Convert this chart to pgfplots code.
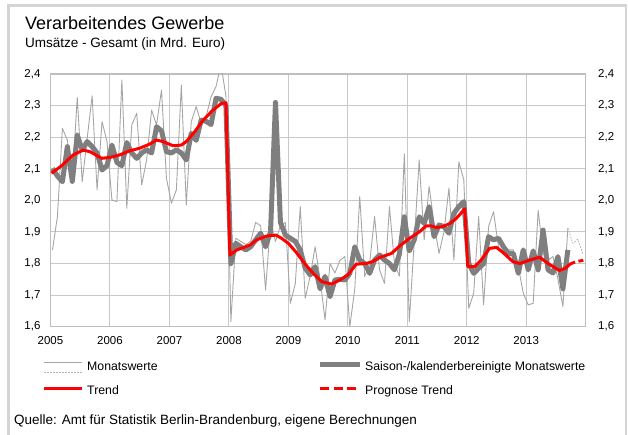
\documentclass[border=0pt]{standalone}
\usepackage{fontspec}
\setmainfont{Liberation Sans}
\usepackage{pgfplots}
\usepackage{pgfplotstable}
\pgfplotsset{compat=1.18}
\definecolor{gridgray}{HTML}{C8C8C8}
\definecolor{axgray}{HTML}{BEBEBE}
\definecolor{thingray}{HTML}{A6A6A6}
\definecolor{dotgray}{HTML}{B4B4B4}
\definecolor{thickgray}{HTML}{7F7F7F}
\definecolor{framegray}{HTML}{D4D4D4}
\definecolor{trendred}{HTML}{FF0000}

% Monatswerte (month index 0 = Jan 2005)
\pgfplotstableread{
m v
0 1.843
1 1.949
2 2.228
3 2.191
4 2.065
5 2.326
6 2.059
7 2.196
8 2.331
9 2.033
10 2.249
11 2.186
12 2.001
13 1.996
14 2.381
15 1.975
16 2.239
17 2.276
18 2.049
19 2.128
20 2.286
21 2.239
22 2.349
23 2.070
24 1.991
25 2.033
26 2.365
27 1.985
28 2.249
29 2.297
30 2.244
31 2.265
32 2.328
33 2.360
34 2.430
35 2.330
36 1.616
37 1.880
38 1.870
39 1.860
40 1.870
41 1.930
42 1.920
43 1.716
44 1.930
45 1.870
46 1.920
47 1.930
48 1.674
49 1.737
50 1.980
51 1.690
52 1.760
53 1.853
54 1.750
55 1.622
56 1.800
57 1.770
58 1.810
59 1.822
60 1.600
61 1.720
62 2.012
63 1.759
64 1.800
65 1.949
66 1.780
67 1.737
68 1.980
69 1.800
70 1.760
71 2.147
72 1.616
73 1.870
74 2.128
75 1.875
76 2.044
77 1.927
78 1.832
79 1.900
80 2.039
81 1.811
82 2.122
83 2.065
84 1.658
85 1.706
86 1.949
87 1.669
88 1.917
89 1.964
90 1.853
91 1.832
92 1.843
93 1.843
94 1.790
95 1.706
96 1.669
97 1.674
98 1.969
99 1.832
100 1.811
101 1.822
102 1.750
103 1.664
104 1.912
}\thin

\pgfplotstableread{
m v
104 1.912
105 1.864
106 1.877
107 1.832
}\thindot

% Saison-/kalenderbereinigte Monatswerte
\pgfplotstableread{
m v
0 2.101
1 2.077
2 2.059
3 2.170
4 2.060
5 2.207
6 2.160
7 2.186
8 2.170
9 2.150
10 2.096
11 2.110
12 2.175
13 2.120
14 2.110
15 2.183
16 2.150
17 2.133
18 2.150
19 2.160
20 2.150
21 2.233
22 2.220
23 2.154
24 2.150
25 2.160
26 2.150
27 2.128
28 2.212
29 2.190
30 2.254
31 2.250
32 2.240
33 2.323
34 2.320
35 2.300
36 1.800
37 1.864
38 1.853
39 1.843
40 1.853
41 1.875
42 1.896
43 1.853
44 1.900
45 2.310
46 1.930
47 1.890
48 1.880
49 1.870
50 1.843
51 1.785
52 1.764
53 1.790
54 1.720
55 1.759
56 1.695
57 1.748
58 1.750
59 1.748
60 1.769
61 1.853
62 1.811
63 1.800
64 1.769
65 1.811
66 1.827
67 1.811
68 1.800
69 1.780
70 1.830
71 1.948
72 1.840
73 1.875
74 1.948
75 1.927
76 1.980
77 1.885
78 1.922
79 1.917
80 1.896
81 1.959
82 1.980
83 1.996
84 1.800
85 1.769
86 1.785
87 1.800
88 1.885
89 1.875
90 1.880
91 1.853
92 1.832
93 1.832
94 1.769
95 1.843
96 1.780
97 1.840
98 1.780
99 1.906
100 1.780
101 1.770
102 1.822
103 1.720
104 1.843
}\sais

% Trend
\pgfplotstableread{
x y
0.2 2.086
2.2 2.109
4.6 2.144
6.6 2.159
8 2.154
10.3 2.133
12 2.136
14 2.144
16 2.157
18 2.165
20 2.178
21.4 2.191
22.7 2.186
24.7 2.173
26.4 2.175
27.4 2.186
29.1 2.217
30.8 2.254
32.8 2.286
34.5 2.307
35.4 2.309
36.2 1.827
37.6 1.843
39 1.851
40.3 1.859
41.6 1.875
43.6 1.887
45.5 1.890
46.6 1.880
48 1.864
49.6 1.835
51.3 1.800
53 1.769
54.7 1.743
56.7 1.735
58.4 1.748
60 1.764
61.7 1.798
63.7 1.800
65 1.806
66.4 1.819
68.8 1.832
70.5 1.856
72.3 1.878
74.5 1.901
75.8 1.919
76.8 1.919
77.9 1.914
79.2 1.917
80.6 1.927
81.9 1.943
83.6 1.973
84.2 1.790
85.6 1.790
86.9 1.811
88.6 1.848
90 1.851
91.3 1.835
93.3 1.806
94.7 1.800
96.7 1.811
98.7 1.820
100.4 1.800
102.7 1.778
104 1.786
104.9 1.799
}\trend

\pgfplotstableread{
x y
104.9 1.799
106.1 1.806
107.8 1.811
}\prog

\pgfplotsset{
  ticknum/.style={/pgf/number format/fixed, /pgf/number format/fixed zerofill, /pgf/number format/precision=1, /pgf/number format/use comma, /pgf/number format/assume math mode=true},
}

\begin{document}
\begin{tikzpicture}[x=1pt,y=1pt]
\useasboundingbox (0,0) rectangle (628,434);
\draw[framegray, line width=2.5pt] (8.7,-5) -- (8.7,428.7) -- (626,428.7) -- (626,-5);
\node[anchor=base west, inner sep=0, font=\fontsize{18}{20}\selectfont] at (25,404.7) {Verarbeitendes Gewerbe};
\node[anchor=base west, inner sep=0, font=\fontsize{13.5}{15}\selectfont] at (25,386.3) {Umsätze - Gesamt (in Mrd. Euro)};

\begin{axis}[
  at={(50.5pt,107.3pt)}, anchor=south west, scale only axis,
  width=535.2pt, height=252.7pt,
  xmin=0, xmax=108, ymin=1.6, ymax=2.4,
  xtick={0,12,24,36,48,60,72,84,96,108},
  xticklabels={2005,2006,2007,2008,2009,2010,2011,2012,2013,{}},
  ytick={1.6,1.7,1.8,1.9,2.0,2.1,2.2,2.3,2.4},
  grid=major, grid style={color=gridgray, line width=1pt},
  axis line style={color=axgray, line width=1.2pt},
  tick style={draw=none},
  ticklabel style={font=\fontsize{11.5}{13}\selectfont},
  yticklabel style={ticknum, xshift=-6.5pt},
  xticklabel style={yshift=-6pt},
  line join=round,
]
\addplot[thingray, line width=0.9pt, forget plot] table[x expr=\thisrow{m}+0.4, y=v]{\thin};
\addplot[dotgray, line width=0.9pt, dash pattern=on 1.5pt off 1.5pt, forget plot] table[x expr=\thisrow{m}+0.4, y=v]{\thindot};
\addplot[thickgray, line width=5pt, forget plot] table[x expr=\thisrow{m}+0.4, y=v]{\sais};
\addplot[trendred, line width=3pt, forget plot] table[x=x, y=y]{\trend};
\addplot[trendred, line width=3pt, dash pattern=on 5pt off 3.5pt, forget plot] table[x=x, y=y]{\prog};
\end{axis}

\begin{axis}[
  at={(50.5pt,107.3pt)}, anchor=south west, scale only axis,
  width=535.2pt, height=252.7pt,
  xmin=0, xmax=108, ymin=1.6, ymax=2.4,
  xtick=\empty,
  ytick={1.6,1.7,1.8,1.9,2.0,2.1,2.2,2.3,2.4},
  yticklabel pos=right,
  axis line style={draw=none},
  tick style={draw=none},
  ticklabel style={font=\fontsize{11.5}{13}\selectfont},
  yticklabel style={ticknum, xshift=9pt},
]
\addplot[draw=none, forget plot] coordinates {(0,2)};
\end{axis}

% legend
\begin{scope}[font=\fontsize{12.3}{14}\selectfont]
\draw[thingray, line width=1pt] (44,71.3) -- (82,71.3);
\draw[dotgray, line width=1pt, dash pattern=on 1.5pt off 1.5pt] (44,61.3) -- (82,61.3);
\node[anchor=base west, inner sep=0] at (87,64) {Monatswerte};
\draw[thickgray, line width=5pt] (320,69.7) -- (360,69.7);
\node[anchor=base west, inner sep=0] at (365,64) {Saison-/kalenderbereinigte Monatswerte};
\draw[trendred, line width=3pt] (44,45.7) -- (82,45.7);
\node[anchor=base west, inner sep=0] at (87,40) {Trend};
\draw[trendred, line width=3pt, dash pattern=on 9pt off 4.5pt] (320,46) -- (357,46);
\node[anchor=base west, inner sep=0] at (365,40) {Prognose Trend};
\end{scope}
\node[anchor=base west, inner sep=0, font=\fontsize{13.5}{15}\selectfont] at (14,10) {Quelle: Amt für Statistik Berlin-Brandenburg, eigene Berechnungen};
\end{tikzpicture}
\end{document}
